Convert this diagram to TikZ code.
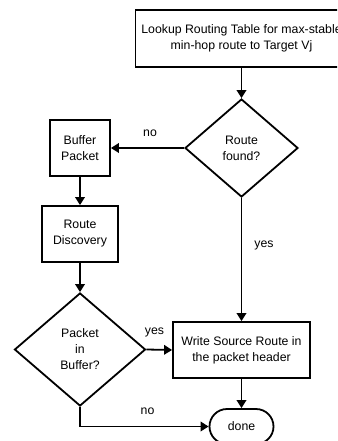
\documentclass[tikz,border=0pt]{standalone}
\usepackage{fontspec}
\setmainfont{Liberation Sans}
\usetikzlibrary{arrows.meta,shapes.geometric,shapes.misc}
\begin{document}
\begin{tikzpicture}[x=1pt,y=-1pt,
  box/.style={draw,line width=1.8pt,rectangle,align=center,inner sep=0pt,font=\fontsize{12.3}{16}\selectfont},
  dia/.style={draw,line width=1.8pt,diamond,align=center,inner sep=0pt,font=\fontsize{12.3}{16}\selectfont},
  arr/.style={line width=1.8pt,-{Triangle[length=8pt,width=9.5pt]}},
  lbl/.style={font=\fontsize{12.3}{14}\selectfont,inner sep=0pt}]
\useasboundingbox (0,0) rectangle (337,441);
\clip (0,0) rectangle (337,441);
\node[box,minimum width=212pt,minimum height=57pt] (lookup) at (241.5,38.5) {Lookup Routing Table for max-stable\\min-hop route to Target Vj};
\node[dia,minimum width=113pt,minimum height=98pt] (found) at (241.5,148) {Route\\found?};
\node[box,minimum width=60pt,minimum height=56pt] (buffer) at (80,148) {Buffer\\Packet};
\node[box,minimum width=76pt,minimum height=56pt] (disc) at (80,234) {Route\\Discovery};
\node[dia,minimum width=131pt,minimum height=113pt] (inbuf) at (80,349.5) {Packet\\in\\Buffer?};
\node[box,minimum width=137pt,minimum height=56pt] (write) at (241.5,350) {Write Source Route in\\the packet header};
\node[draw,line width=1.8pt,rounded rectangle,minimum width=64pt,minimum height=35pt,inner sep=0pt,font=\fontsize{12.3}{14}\selectfont] (done) at (241.5,426.5) {done};
\coordinate (corner) at (inbuf.south |- done.west);
\draw[arr] (lookup.south) -- (found.north);
\draw[arr] (found.west) -- (buffer.east);
\draw[arr] (buffer.south) -- (disc.north);
\draw[arr] (disc.south) -- (inbuf.north);
\draw[arr] (found.south) -- (write.north);
\draw[arr] (inbuf.east) -- (write.west);
\draw[arr] (write.south) -- (done.north);
\draw[arr] (inbuf.south) -- (corner) -- (done.west);
\node[lbl] (lno1) at (150,133) {no};
\node[lbl] (lyes1) at (264,245.5) {yes};
\node[lbl] (lyes2) at (154.5,332.5) {yes};
\node[lbl] (lno2) at (147.5,411.5) {no};
\end{tikzpicture}
\end{document}
